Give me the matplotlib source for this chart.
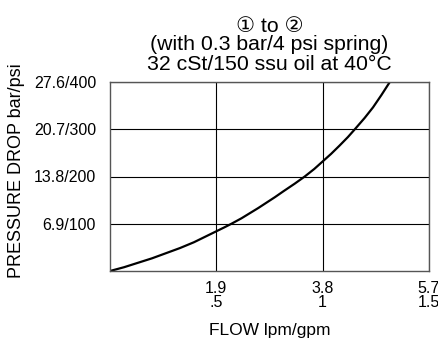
import matplotlib
matplotlib.use("Agg")
import matplotlib.pyplot as plt

plt.rcParams['font.family'] = ['Liberation Sans', 'DejaVu Sans']

# flow in lpm, pressure drop in bar
flow = [0, 0.25, 0.5, 0.75, 1.0, 1.25, 1.5, 1.7, 1.9, 2.05, 2.17, 2.35, 2.5, 2.65,
        2.8, 2.95, 3.1, 3.3, 3.48, 3.65, 3.8, 3.95, 4.1, 4.25, 4.375, 4.55, 4.7,
        4.85, 5.0]
drop = [0, 0.55, 1.2, 1.85, 2.6, 3.35, 4.2, 5.0, 5.8, 6.4, 6.9, 7.7, 8.45, 9.2,
        10.0, 10.8, 11.65, 12.75, 13.8, 14.9, 16.0, 17.1, 18.3, 19.55, 20.7, 22.35,
        23.9, 25.7, 27.6]

xticks = [1.9, 3.8, 5.7]
xlabels = ['1.9\n.5', '3.8\n1', '5.7\n1.5']
yticks = [6.9, 13.8, 20.7, 27.6]
ylabels = ['6.9/100', '13.8/200', '20.7/300', '27.6/400']

fig = plt.figure(figsize=(4.39, 3.41), dpi=100)
ax = fig.add_axes([110/439, 70/341, 319/439, 189/341])

ax.plot(flow, drop, color='black', lw=1.6, solid_capstyle='butt')

ax.set_xlim(0, 5.7)
ax.set_ylim(0, 27.6)
ax.set_xticks(xticks)
ax.set_xticklabels(xlabels, fontsize=11.5, linespacing=0.95)
ax.set_yticks(yticks)
ax.set_yticklabels(ylabels, fontsize=11.5)
ax.tick_params(length=0)
ax.tick_params(axis='x', pad=7)
ax.tick_params(axis='y', pad=10)
ax.grid(True, color='black', lw=0.8)
for s in ax.spines.values():
    s.set_color('#555555')
    s.set_linewidth(1.0)

ax.set_xlabel('FLOW lpm/gpm', fontsize=12.5, labelpad=9)
ax.set_ylabel('PRESSURE DROP bar/psi', fontsize=13)
ax.yaxis.set_label_coords(-0.265, 0.53)
ax.set_title('\u2460 to \u2461\n(with 0.3 bar/4 psi spring)\n32 cSt/150 ssu oil at 40\u00b0C',
             fontsize=15.3, linespacing=1.0, pad=9)

fig.savefig('out.png', dpi=100)
